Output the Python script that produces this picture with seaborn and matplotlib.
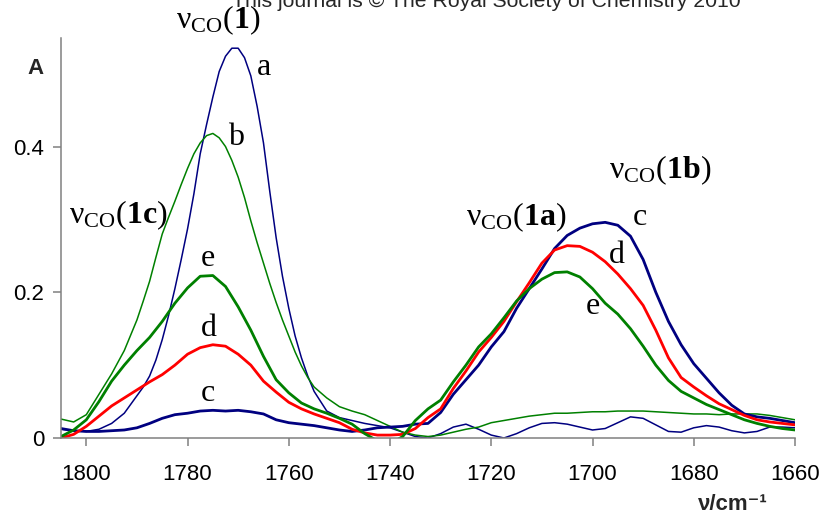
import numpy as np
import pandas as pd
import matplotlib
matplotlib.use("Agg")
import matplotlib.pyplot as plt
import seaborn as sns

# wavenumber grid (cm-1), 1805 -> 1660 every 2.5
wavenumber = np.arange(1805, 1659.9, -2.5)
# denser grid through the narrow band of spectra a and b
wavenumber_fine = np.concatenate([np.arange(1805, 1790.1, -2.5),
                                  np.arange(1790, 1755.1, -1.25),
                                  np.arange(1755, 1659.9, -2.5)])

# absorbance of each spectrum
abs_a = [0.012, 0.010, 0.009, 0.012, 0.020, 0.034,
         0.058, 0.070, 0.085, 0.107, 0.135, 0.168, 0.205, 0.245, 0.287, 0.335,
         0.390, 0.430, 0.468, 0.503, 0.524, 0.535, 0.535, 0.522, 0.497, 0.455,
         0.405, 0.338, 0.275, 0.222, 0.178, 0.140, 0.110, 0.085,
         0.064, 0.037, 0.028, 0.024, 0.020, 0.017, 0.014, 0.008, 0.002, 0.000,
         0.006, 0.015, 0.019, 0.012, 0.004, 0.000, 0.006, 0.014, 0.020, 0.021,
         0.019, 0.015, 0.011, 0.013, 0.021, 0.029, 0.027, 0.018, 0.009, 0.008,
         0.014, 0.017, 0.015, 0.010, 0.007, 0.009, 0.015, 0.015, 0.014]
abs_b = [0.026, 0.022, 0.032, 0.060, 0.088, 0.120,
         0.162, 0.188, 0.215, 0.248, 0.280, 0.303, 0.325, 0.348, 0.370, 0.390,
         0.405, 0.415, 0.418, 0.412, 0.400, 0.381, 0.358, 0.330, 0.298, 0.268,
         0.240, 0.212, 0.186, 0.162, 0.140, 0.118, 0.099, 0.083,
         0.070, 0.055, 0.043, 0.037, 0.032, 0.024, 0.016, 0.008, 0.004, 0.002,
         0.004, 0.008, 0.012, 0.015, 0.021, 0.024, 0.027, 0.030, 0.032, 0.034,
         0.034, 0.035, 0.036, 0.036, 0.037, 0.037, 0.037, 0.036, 0.035, 0.034,
         0.033, 0.033, 0.032, 0.033, 0.033, 0.033, 0.031, 0.028, 0.025]
abs_c = [0.013, 0.010, 0.009, 0.009, 0.010, 0.011, 0.014, 0.020, 0.027, 0.032,
         0.034, 0.037, 0.038, 0.037, 0.038, 0.036, 0.033, 0.025, 0.021, 0.019,
         0.017, 0.014, 0.011, 0.009, 0.011, 0.014, 0.015, 0.016, 0.019, 0.020,
         0.035, 0.060, 0.080, 0.100, 0.125, 0.146, 0.178, 0.205, 0.232, 0.260,
         0.278, 0.288, 0.294, 0.296, 0.292, 0.277, 0.245, 0.200, 0.160, 0.128,
         0.102, 0.082, 0.062, 0.045, 0.033, 0.029, 0.027, 0.024, 0.021]
abs_d = [0.000, 0.005, 0.016, 0.030, 0.044, 0.055, 0.066, 0.077, 0.087, 0.100,
         0.115, 0.124, 0.128, 0.126, 0.115, 0.100, 0.078, 0.063, 0.049, 0.040,
         0.033, 0.027, 0.021, 0.012, 0.007, 0.004, 0.004, 0.005, 0.013, 0.028,
         0.040, 0.068, 0.092, 0.118, 0.138, 0.160, 0.187, 0.213, 0.240, 0.258,
         0.264, 0.263, 0.255, 0.242, 0.225, 0.205, 0.182, 0.148, 0.110, 0.083,
         0.070, 0.058, 0.047, 0.039, 0.031, 0.025, 0.022, 0.020, 0.018]
abs_e = [0.002, 0.011, 0.025, 0.050, 0.078, 0.100, 0.120, 0.138, 0.160, 0.185,
         0.206, 0.222, 0.223, 0.208, 0.180, 0.148, 0.112, 0.080, 0.062, 0.048,
         0.040, 0.034, 0.027, 0.019, 0.006, -0.004, -0.008, 0.002, 0.024, 0.040,
         0.052, 0.077, 0.100, 0.125, 0.143, 0.165, 0.188, 0.205, 0.218, 0.227,
         0.228, 0.221, 0.205, 0.185, 0.170, 0.150, 0.126, 0.100, 0.079, 0.064,
         0.055, 0.046, 0.039, 0.032, 0.025, 0.020, 0.016, 0.013, 0.011]

series = {"a": (wavenumber_fine, abs_a), "b": (wavenumber_fine, abs_b),
          "c": (wavenumber, abs_c), "d": (wavenumber, abs_d), "e": (wavenumber, abs_e)}
colors = {"a": "#000080", "b": "#008000", "c": "#000080", "d": "#ff0000", "e": "#008000"}
widths = {"a": 1.1, "b": 1.1, "c": 2.0, "d": 2.0, "e": 2.0}

sns.set_style("ticks")
plt.rcParams["font.family"] = ["Liberation Sans", "DejaVu Sans"]
plt.rcParams["mathtext.fontset"] = "custom"
plt.rcParams["mathtext.rm"] = "Liberation Serif"
plt.rcParams["mathtext.bf"] = "Liberation Serif:bold"
plt.rcParams["mathtext.it"] = "Liberation Serif:italic"

fig = plt.figure(figsize=(8.25, 5.15), dpi=100)
ax = fig.add_axes([61 / 825, 1 - 438 / 515, 734 / 825, 400 / 515])

for name, (nu, vals) in series.items():
    sns.lineplot(x=nu, y=vals, ax=ax, color=colors[name],
                 linewidth=widths[name], sort=False)

ax.set_xlim(1805, 1660)
ax.set_ylim(0, 0.549)
ax.set_xticks([1800, 1780, 1760, 1740, 1720, 1700, 1680, 1660])
ax.set_yticks([0, 0.2, 0.4])
ax.set_yticklabels(["0", "0.2", "0.4"])
ax.tick_params(axis="both", colors="#808080", labelcolor="black", labelsize=16,
               length=6, width=1.1)
ax.tick_params(axis="x", pad=13)
ax.tick_params(axis="y", pad=6)
for side in ["top", "right"]:
    ax.spines[side].set_visible(False)
for side in ["left", "bottom"]:
    ax.spines[side].set_color("#808080")
    ax.spines[side].set_linewidth(1.1)

# peak annotations
serif = dict(fontsize=23, ha="center", va="center", color="black")
ax.text(1774, 0.573, r"$\mathrm{\nu_{CO}(}\mathbf{1}\mathrm{)}$", **serif)
ax.text(1793.7, 0.306, r"$\mathrm{\nu_{CO}(}\mathbf{1c}\mathrm{)}$", **serif)
ax.text(1715.1, 0.303, r"$\mathrm{\nu_{CO}(}\mathbf{1a}\mathrm{)}$", **serif)
ax.text(1686.6, 0.368, r"$\mathrm{\nu_{CO}(}\mathbf{1b}\mathrm{)}$", **serif)

letter = dict(fontsize=23, ha="center", va="center", color="black",
              family="Liberation Serif")
ax.text(1764.9, 0.508, "a", **letter)
ax.text(1770.4, 0.413, "b", **letter)
ax.text(1776.0, 0.246, "e", **letter)
ax.text(1775.8, 0.150, "d", **letter)
ax.text(1776.0, 0.061, "c", **letter)
ax.text(1690.6, 0.302, "c", **letter)
ax.text(1695.1, 0.250, "d", **letter)
ax.text(1700.0, 0.180, "e", **letter)

fig.text(36 / 825, 1 - 68 / 515, "A", fontsize=16, fontweight="bold",
         ha="center", va="center")
fig.text(768 / 825, 1 - 504 / 515, "\u03bd/cm\u207b\u00b9", fontsize=16,
         fontweight="bold", ha="right", va="center")
# page header, cut by the top edge as in the source figure
fig.text(486 / 825, 1 - 7 / 515,
         "This journal is \u00a9 The Royal Society of Chemistry 2010",
         fontsize=15.3, ha="center", va="baseline")

fig.savefig("out.png", dpi=100)
